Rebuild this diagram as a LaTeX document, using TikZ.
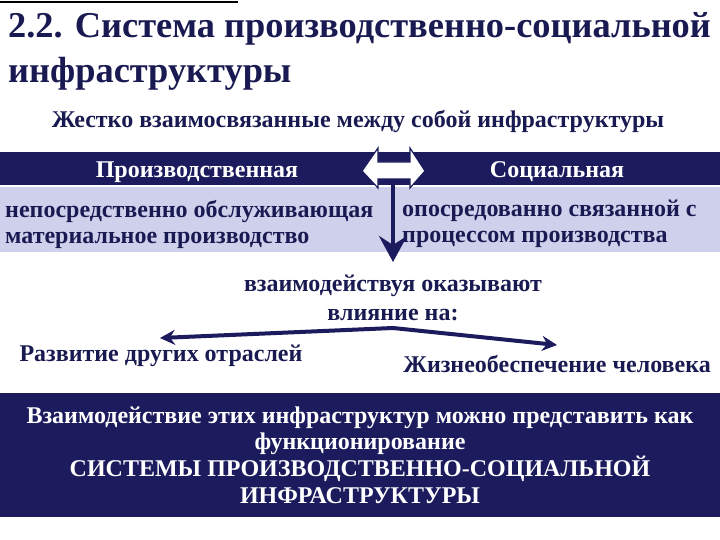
\documentclass[tikz,border=0pt]{standalone}
\usepackage{fontspec}
\setmainfont{Liberation Serif}
\newfontfamily\slidefont{Liberation Serif}[BoldFont={Liberation Serif Bold}]
\usetikzlibrary{arrows.meta}
\definecolor{navy}{HTML}{1B1B5E}
\definecolor{inkblue}{HTML}{1A1A52}
\definecolor{lavender}{HTML}{CFD0EC}
\begin{document}
\begin{tikzpicture}[x=1pt,y=-1pt,
  txt/.style={inner sep=0pt,text=inkblue,font=\slidefont\bfseries\fontsize{24}{26}\selectfont},
  wtxt/.style={txt,text=white},
  thick arrow/.style={draw=navy,line width=4pt,-{Stealth[length=15pt,width=15pt,inset=5pt]}}]
\useasboundingbox (0,0) rectangle (720,540);
\draw[line width=2pt] (0,2) -- (238,2);

% title
\node[txt,anchor=base west,font=\slidefont\bfseries\fontsize{36.4}{45}\selectfont] (title1) at (8,38) {2.2. Система производственно-социальной};
\node[txt,anchor=base west,font=\slidefont\bfseries\fontsize{36.4}{45}\selectfont] (title2) at (8,83) {инфраструктуры};
\node[txt,anchor=base] (sub) at (358,128) {Жестко взаимосвязанные между собой инфраструктуры};

% bands
\fill[navy] (0,152) rectangle (720,185);
\fill[lavender] (0,187) rectangle (720,252);
\node[wtxt,anchor=base] (prod) at (197,178) {Производственная};
\node[wtxt,anchor=base] (soc) at (557,178) {Социальная};
\node[txt,anchor=north west,align=left] (prodtxt) at (5,200) {непосредственно обслуживающая\\материальное производство};
\node[txt,anchor=north west,align=left] (soctxt) at (402,200) {опосредованно связанной с\\процессом производства};

% central arrows
\coordinate (hub) at (393,152);
\coordinate (down) at (393,262);
\draw[draw=navy,line width=4pt,-{Stealth[length=26pt,width=28pt,inset=9pt]}] (hub) -- (down);
\draw[draw=navy,line width=1.2pt,fill=white,line join=miter]
  (362,171) -- (378,148) -- (378,162) -- (410,162) -- (410,148) -- (425,171)
  -- (410,188) -- (410,179) -- (378,179) -- (378,188) -- cycle;

\node[txt,align=center] (infl) at (393,298) {взаимодействуя оказывают\\[3pt]влияние на:};
\coordinate (split) at (393,328);
\coordinate (ltip) at (160,338);
\coordinate (rtip) at (557,345);
\draw[thick arrow] (split) -- (ltip);
\draw[thick arrow] (split) -- (rtip);
\node[txt] (dev) at (161,356) {Развитие других отраслей};
\node[txt] (life) at (557,364) {Жизнеобеспечение человека};

% bottom box
\fill[navy] (0,393) rectangle (720,517);
\node[wtxt,align=center,font=\slidefont\bfseries\fontsize{24}{26.7}\selectfont] (sys) at (360,455)
  {Взаимодействие этих инфраструктур можно представить как\\функционирование\\СИСТЕМЫ ПРОИЗВОДСТВЕННО-СОЦИАЛЬНОЙ\\ИНФРАСТРУКТУРЫ};
\end{tikzpicture}
\end{document}
